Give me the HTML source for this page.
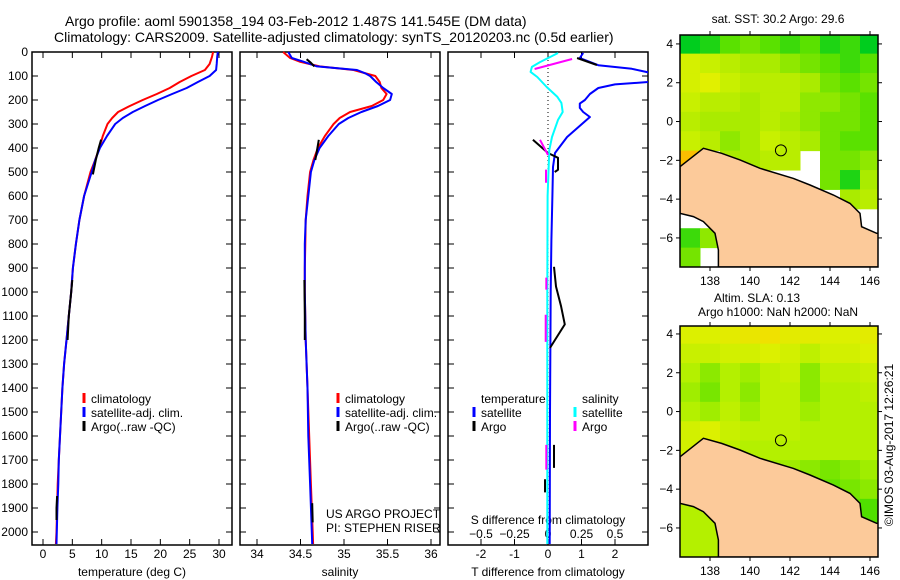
<!DOCTYPE html>
<html><head><meta charset="utf-8"><style>
html,body{margin:0;padding:0;background:#fff;}
svg{display:block;font-family:"Liberation Sans",sans-serif;}
</style></head><body>
<svg id="fig" width="900" height="580" viewBox="0 0 900 580" xmlns="http://www.w3.org/2000/svg">
<text x="65" y="26" font-size="14">Argo profile: aoml 5901358_194 03-Feb-2012 1.487S 141.545E (DM data)</text>
<text x="54" y="42" font-size="14">Climatology: CARS2009. Satellite-adjusted climatology: synTS_20120203.nc (0.5d earlier)</text>
<text x="132" y="576" font-size="12" text-anchor="middle">temperature (deg C)</text>
<text x="340" y="576" font-size="12" text-anchor="middle">salinity</text>
<text x="548" y="576" font-size="12" text-anchor="middle">T difference from climatology</text>
<text x="548" y="524" font-size="12" text-anchor="middle">S difference from climatology</text>
<text x="326" y="518" font-size="12">US ARGO PROJECT</text>
<text x="326" y="532" font-size="12">PI: STEPHEN RISER</text>
<text x="778" y="23" font-size="12" text-anchor="middle">sat. SST: 30.2 Argo: 29.6</text>
<text x="757" y="302" font-size="12" text-anchor="middle">Altim. SLA: 0.13</text>
<text x="778" y="316" font-size="12" text-anchor="middle">Argo h1000: NaN h2000: NaN</text>
<text x="0" y="0" font-size="12" text-anchor="middle" transform="translate(893,445) rotate(-90)">©IMOS 03-Aug-2017 12:26:21</text>
</svg>
<script>
// ---------- profile data ----------
const depthT = [0,20,50,75,100,125,150,175,200,225,250,275,300,350,400,450,500,600,700,800,900,1000,1100,1200,1300,1400,1500,1600,1700,1800,1900,2000,2050];
const tempClim = [29.0,28.8,28.4,27.6,25.3,23.3,21.6,19.4,17.0,14.8,12.8,11.8,11.0,10.2,9.6,8.9,8.1,7.0,6.2,5.6,5.1,4.8,4.4,4.0,3.6,3.3,3.1,2.9,2.7,2.5,2.4,2.3,2.2];
const tempSat = [29.8,29.7,29.6,29.5,28.4,26.4,24.5,22.0,19.6,17.4,15.3,13.6,12.3,10.9,9.7,8.9,8.3,7.0,6.2,5.6,5.1,4.8,4.4,4.0,3.6,3.3,3.1,2.9,2.7,2.6,2.45,2.35,2.3];
const argoTDepth = [365,400,450,510,null,950,1000,1050,1100,1150,1200,null,1850,1900,1950];
const argoT = [9.9,9.5,9.0,8.5,null,5.0,4.8,4.6,4.4,4.3,4.2,null,2.4,2.3,2.3];
const depthS = [0,25,40,60,75,90,100,125,150,175,200,225,250,275,300,350,400,450,500,600,700,800,900,1000,1200,1400,1600,1800,2000,2050];
const salClim = [34.30,34.38,34.49,34.72,35.11,35.26,35.36,35.41,35.43,35.49,35.45,35.32,35.07,34.95,34.88,34.78,34.70,34.65,34.61,34.58,34.56,34.555,34.55,34.55,34.56,34.58,34.60,34.62,34.64,34.645];
const salSat = [34.36,34.40,34.53,34.69,35.15,35.25,35.30,35.37,35.45,35.55,35.53,35.39,35.20,35.05,34.94,34.82,34.72,34.66,34.62,34.59,34.56,34.55,34.55,34.55,34.56,34.58,34.59,34.61,34.63,34.635];
const argoSDepth = [30,45,60,null,366,410,450,null,950,1100,1200,null,1880,1960];
const argoS = [34.57,34.62,34.66,null,34.71,34.69,34.67,null,34.545,34.55,34.55,null,34.635,34.64];
// differences
const diffTDepth = [4,25,55,70,85,105,125,135,150,175,200,215,233,250,271,354,421,479,600,783,1000,1500,2050];
const diffTSat = [1.05,0.95,1.5,2.5,3.0,3.2,3.0,2.0,1.5,1.25,1.1,0.95,0.95,1.05,1.25,0.57,0.21,0.15,0.13,0.1,0.08,0.06,0.05];
const diffSDepth = [4,42,62,83,104,146,187,212,250,283,354,408,600,1000,1500,2050];
const diffSSat = [0.075,-0.06,-0.12,-0.13,-0.08,-0.01,0.07,0.10,0.11,0.075,0.03,0.01,-0.003,-0.005,-0.005,-0.005];
const diffTArgoDepth = [25,54,null,366,421,441,491,500,null,895,977,1060,1135,1233,null,1637,1733,null,1780,1835];
const diffTArgo = [0.87,1.46,null,-0.45,0.0,0.3,0.3,0.2,null,0.18,0.24,0.39,0.5,0.06,null,0.18,0.18,null,-0.09,-0.09];
const diffSArgoDepth = [71,29,null,366,429,null,490,545,null,940,990,null,1095,1208,null,1637,1740];
const diffSArgo = [-0.1,0.18,null,-0.06,0.0,null,-0.015,-0.015,null,-0.013,-0.013,null,-0.017,-0.017,null,-0.013,-0.013];
const depthTicks = [0,100,200,300,400,500,600,700,800,900,1000,1100,1200,1300,1400,1500,1600,1700,1800,1900,2000];
const tempTicks = [0,5,10,15,20,25,30];
const salTicks = [34,34.5,35,35.5,36];
const tDiffTicks = [-2,-1,0,1,2];
const sDiffTicks = [-0.5,-0.25,0,0.25,0.5];
// ---------- map data ----------
const mapLons = [137,138,139,140,141,142,143,144,145,146,147];
const mapLats = [4,3,2,1,0,-1,-2,-3,-4,-5,-6,-7];
const sstGrid = [
[29.2,29.3,29.5,29.6,29.5,29.4,29.5,29.3,29.4,29.2,29.2],
[30.1,30.0,29.9,29.8,29.8,29.7,29.6,29.5,29.4,29.5,29.5],
[30.1,30.2,30.0,29.9,29.9,29.9,29.8,29.6,29.5,29.6,29.6],
[30.0,29.9,29.9,29.8,29.9,29.9,29.7,29.7,29.6,29.5,29.6],
[29.9,29.8,29.8,29.8,29.9,29.8,29.7,29.6,29.6,29.5,29.5],
[30.0,29.9,29.7,29.8,30.0,29.9,29.8,29.6,29.5,29.5,29.6],
[31.0,null,29.8,29.8,29.9,29.9,null,29.6,29.6,29.7,29.9],
[null,null,null,null,null,null,null,29.6,29.3,29.8,29.9],
[null,null,null,null,null,null,null,null,29.8,29.9,29.9],
[null,null,null,null,null,null,null,null,null,null,null],
[29.4,29.7,null,null,null,null,null,null,null,null,null],
[29.6,null,null,null,null,null,null,null,null,null,null]];
const slaGrid = [
[0.17,0.17,0.18,0.19,0.20,0.18,0.18,0.17,0.17,0.18,0.17],
[0.15,0.15,0.16,0.16,0.17,0.16,0.14,0.16,0.16,0.17,0.16],
[0.13,0.11,0.13,0.12,0.14,0.15,0.11,0.14,0.14,0.15,0.15],
[0.12,0.10,0.13,0.11,0.14,0.14,0.11,0.13,0.13,0.14,0.14],
[0.13,0.12,0.14,0.12,0.14,0.14,0.12,0.13,0.13,0.13,0.13],
[0.16,0.17,0.15,0.14,0.14,0.14,0.13,0.13,0.13,0.13,0.13],
[0.16,0.19,0.14,0.13,0.13,0.13,0.13,0.13,0.13,0.13,0.13],
[0.13,0.13,0.12,0.12,0.12,0.12,0.11,0.10,0.11,0.12,0.12],
[0.13,0.13,0.12,0.12,0.12,0.11,0.10,0.09,0.10,0.11,0.10],
[0.13,0.13,0.12,0.12,0.11,0.11,0.10,0.09,0.09,0.08,0.07],
[0.13,0.13,0.13,0.12,0.12,0.11,0.10,0.10,0.09,0.08,0.08],
[0.13,0.13,0.13,0.12,0.12,0.11,0.10,0.10,0.09,0.09,0.09]];
const landLon = [136.5,137.67,138.58,139.5,140.5,142.17,143.0,144.17,145.0,145.5,145.58,146.33,146.9,146.9,138.42,138.42,138.25,137.67,137.17,136.5];
const landLat = [-2.33,-1.38,-1.64,-1.98,-2.41,-2.93,-3.27,-3.79,-4.22,-4.73,-5.42,-5.76,-5.8,-7.5,-7.5,-6.62,-5.76,-5.16,-4.9,-4.73];
const argoLon = 141.545, argoLat = -1.487;
const mapLonTicks = [138,140,142,144,146];
const mapLatTicks = [-6,-4,-2,0,2,4];

const NS = "http://www.w3.org/2000/svg";
const svg = document.getElementById('fig');
function el(tag, attrs, parent){
  const e = document.createElementNS(NS, tag);
  for (const k in attrs) e.setAttribute(k, attrs[k]);
  (parent||svg).appendChild(e);
  return e;
}
const Y0 = 52, YK = 0.24, PT = 52, PB = 545;
const yD = d => Y0 + d*YK;

const panels = [
  {name:'temperature', x0:32, x1:232, f:v=>43+v*5.867},
  {name:'salinity', x0:240, x1:440, f:v=>257+(v-34)*87},
  {name:'difference', x0:448, x1:648, f:v=>548+v*33.5}
];
const fS = v=>548+v*134;

const defs = el('defs',{});
const cp = el('clipPath',{id:'clip3'},defs);
el('rect',{x:448,y:52,width:200,height:493},cp);
const cpm1 = el('clipPath',{id:'clipm1'},defs);
el('rect',{x:680,y:35,width:198,height:232},cpm1);
const cpm2 = el('clipPath',{id:'clipm2'},defs);
el('rect',{x:680,y:326,width:198,height:231},cpm2);

function line(xs, ds, fx, color, w, name, clip){
  let d = '', pen = false;
  for (let i=0;i<xs.length;i++){
    if (xs[i]===null || ds[i]===null){ pen=false; continue; }
    d += (pen?'L':'M') + fx(xs[i]).toFixed(1) + ' ' + yD(ds[i]).toFixed(1) + ' ';
    pen = true;
  }
  const p = el('path',{d:d, fill:'none', stroke:color, 'stroke-width':w, 'stroke-linejoin':'round'});
  if (clip) p.setAttribute('clip-path','url(#'+clip+')');
  
  
  return p;
}

panels.forEach((p,pi)=>{
  const r = el('rect',{x:p.x0,y:PT,width:p.x1-p.x0,height:PB-PT,fill:'none',stroke:'#000','stroke-width':1.5});
  
  
  depthTicks.forEach(t=>{
    const y = yD(t);
    const a = el('line',{x1:p.x0,x2:p.x0+6,y1:y,y2:y,stroke:'#000'});
    
    
    const b = el('line',{x1:p.x1-6,x2:p.x1,y1:y,y2:y,stroke:'#000'});
    
    
  });
});
depthTicks.forEach(t=>{
  const tx = el('text',{x:28,y:yD(t)+4,'font-size':12,'text-anchor':'end'});
  tx.textContent = t;
  
  
});
function xTicks(ticks, fx, labelY, top, bottom, name, fmt){
  ticks.forEach(t=>{
    const x = fx(t);
    if (bottom){
      const a = el('line',{x1:x,x2:x,y1:PB-6,y2:PB,stroke:'#000'});
      
      
    }
    if (top){
      const b = el('line',{x1:x,x2:x,y1:PT,y2:PT+6,stroke:'#000'});
      
      
    }
    const tx = el('text',{x:x,y:labelY,'font-size':12,'text-anchor':'middle'});
    tx.textContent = fmt ? fmt(t) : t;
    
    
  });
}
xTicks(tempTicks, panels[0].f, 558, true, true, 'temperature');
xTicks(salTicks, panels[1].f, 558, true, true, 'salinity');
xTicks(tDiffTicks, panels[2].f, 558, false, true, 't-diff');
xTicks(sDiffTicks, fS, 538, true, false, 's-diff', t=>String(t).replace('-','\u2212'));

const z = el('line',{x1:548,x2:548,y1:60,y2:PB,stroke:'#000','stroke-dasharray':'1 3'});



line(tempClim, depthT, panels[0].f, '#ff0000', 2, 'temperature-climatology-line');
line(tempSat, depthT, panels[0].f, '#0000ff', 2, 'temperature-satellite-line');
line(argoT, argoTDepth, panels[0].f, '#000', 2, 'temperature-argo-line');
line(salClim, depthS, panels[1].f, '#ff0000', 2, 'salinity-climatology-line');
line(salSat, depthS, panels[1].f, '#0000ff', 2, 'salinity-satellite-line');
line(argoS, argoSDepth, panels[1].f, '#000', 2, 'salinity-argo-line');
line(diffTSat, diffTDepth, panels[2].f, '#0000ff', 2, 't-diff-satellite-line', 'clip3');
line(diffTArgo, diffTArgoDepth, panels[2].f, '#000', 2, 't-diff-argo-line', 'clip3');
line(diffSSat, diffSDepth, fS, '#00ffff', 2, 's-diff-satellite-line', 'clip3');
line(diffSArgo, diffSArgoDepth, fS, '#ff00ff', 2, 's-diff-argo-line', 'clip3');

function legend(x, y, color, label, name){
  const m = el('line',{x1:x,x2:x,y1:y-10,y2:y,stroke:color,'stroke-width':3});
  
  
  const t = el('text',{x:x+7,y:y,'font-size':12});
  t.textContent = label;
  
  
}
legend(84,403,'#ff0000','climatology','legend-climatology');
legend(84,417,'#0000ff','satellite-adj. clim.','legend-satellite');
legend(84,431,'#000','Argo(..raw -QC)','legend-argo');
legend(338,403,'#ff0000','climatology','legend2-climatology');
legend(338,417,'#0000ff','satellite-adj. clim.','legend2-satellite');
legend(338,431,'#000','Argo(..raw -QC)','legend2-argo');
const lt = el('text',{x:481,y:403,'font-size':12}); lt.textContent='temperature';


const ls = el('text',{x:582,y:403,'font-size':12}); ls.textContent='salinity';


legend(474,417,'#0000ff','satellite','legend-t-satellite');
legend(474,431,'#000','Argo','legend-t-argo');
legend(575,417,'#00ffff','satellite','legend-s-satellite');
legend(575,431,'#ff00ff','Argo','legend-s-argo');

// ---------- maps ----------
function lerpColor(stops, v){
  if (v<=stops[0][0]) return 'rgb('+stops[0][1].join(',')+')';
  for (let i=1;i<stops.length;i++){
    if (v<=stops[i][0]){
      const a=stops[i-1], b=stops[i], t=(v-a[0])/(b[0]-a[0]);
      return 'rgb('+a[1].map((c,k)=>Math.round(c+(b[1][k]-c)*t)).join(',')+')';
    }
  }
  return 'rgb('+stops[stops.length-1][1].join(',')+')';
}
const sstStops = [[29.2,[0,205,30]],[29.5,[90,225,0]],[29.8,[170,235,0]],[30.0,[200,240,0]],[30.2,[225,240,0]],[31.0,[250,190,0]]];
const slaStops = [[0.07,[60,220,0]],[0.10,[120,230,0]],[0.13,[180,240,0]],[0.17,[220,240,0]],[0.20,[240,225,0]]];
function drawMap(m){
  const fx = lon => 680 + (lon-136.5)*20;
  const fy = lat => m.top + (m.latTop - lat)*19.4;
  const bg = el('rect',{x:680,y:m.top,width:198,height:m.bottom-m.top,fill:'#fff'});
  
  
  const g = el('g',{'clip-path':'url(#'+m.clip+')'});
  
  
  mapLats.forEach((lat,ri)=>{
    mapLons.forEach((lon,ci)=>{
      const v = m.grid[ri][ci];
      if (v===null) return;
      const c = el('rect',{x:fx(lon-0.5),y:fy(lat+0.5),width:20.5,height:19.9,fill:lerpColor(m.stops,v)},g);
      
      
    });
  });
  let d='';
  landLon.forEach((lon,i)=>{ d += (i?'L':'M')+fx(lon).toFixed(1)+' '+fy(landLat[i]).toFixed(1)+' '; });
  const land = el('path',{d:d+'Z',fill:'#fcca9a',stroke:'#000','stroke-width':1.5},g);
  
  
  const circ = el('circle',{cx:fx(argoLon),cy:fy(argoLat),r:5.5,fill:'none',stroke:'#000','stroke-width':1});
  
  
  const fr = el('rect',{x:680,y:m.top,width:198,height:m.bottom-m.top,fill:'none',stroke:'#000','stroke-width':1.5});
  
  
  mapLonTicks.forEach(t=>{
    const x = fx(t);
    const a = el('line',{x1:x,x2:x,y1:m.top,y2:m.top-4,stroke:'#000'});
    
    
    const b = el('line',{x1:x,x2:x,y1:m.bottom,y2:m.bottom+4,stroke:'#000'});
    
    
    const tx = el('text',{x:x,y:m.bottom+18,'font-size':12,'text-anchor':'middle'});
    tx.textContent = t;
    
    
  });
  mapLatTicks.forEach(t=>{
    const y = fy(t);
    const a = el('line',{x1:680,x2:676,y1:y,y2:y,stroke:'#000'});
    
    
    const b = el('line',{x1:878,x2:882,y1:y,y2:y,stroke:'#000'});
    
    
    const tx = el('text',{x:673,y:y+4,'font-size':12,'text-anchor':'end'});
    tx.textContent = String(t).replace('-','\u2212');
    
    
  });
}
drawMap({name:'sst-map', top:35, bottom:267, latTop:4.46, grid:sstGrid, stops:sstStops, clip:'clipm1'});
drawMap({name:'sla-map', top:326, bottom:557, latTop:4.41, grid:slaGrid, stops:slaStops, clip:'clipm2'});
</script>
</body></html>
